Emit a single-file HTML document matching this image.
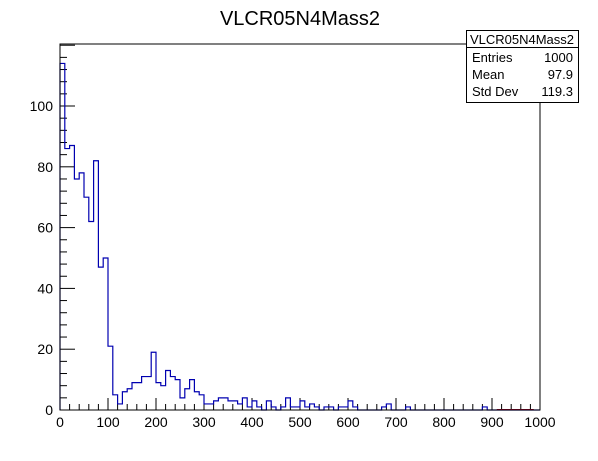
<!DOCTYPE html>
<html><head><meta charset="utf-8"><style>
body{margin:0;background:#fff;}
svg text{font-family:"Liberation Sans",sans-serif;}
</style></head><body>
<svg id="chart" width="598" height="456" viewBox="0 0 598 456" xmlns="http://www.w3.org/2000/svg">
<rect width="598" height="456" fill="#fff"/>
<text x="300" y="25" font-size="20" text-anchor="middle">VLCR05N4Mass2</text>
<g id="axes"></g>
<path id="hist" fill="none" stroke="#0000b0" stroke-width="1.2"/>
<rect x="60" y="44" width="480" height="366" fill="none" stroke="#000" stroke-width="1"/>
<g>
<rect x="466.5" y="30.5" width="112" height="72" fill="#fff" stroke="#000"/>
<line x1="466.5" y1="47.5" x2="578.5" y2="47.5" stroke="#000"/>
<text x="522" y="44" font-size="13" text-anchor="middle">VLCR05N4Mass2</text>
<text x="472" y="62" font-size="13">Entries</text><text x="573" y="62" font-size="13" text-anchor="end">1000</text>
<text x="472" y="79" font-size="13">Mean</text><text x="573" y="79" font-size="13" text-anchor="end">97.9</text>
<text x="472" y="96" font-size="13">Std Dev</text><text x="573" y="96" font-size="13" text-anchor="end">119.3</text>
</g>
</svg>
<script>
const binEdgesStart = 0;
const binWidth = 10;
const counts = [114,86,87,76,78,70,62,82,47,50,21,5,2,6,7,9,9,11,11,19,9,8,13,11,10,4,7,10,6,5,
2,2,3,4,4,3,3,2,4,1,3,1,0,3,1,0,1,4,1,1,3,1,2,1,0,1,1,0,1,1,
3,1,0,0,0,0,0,1,2,0,0,0,1,0,0,0,0,0,0,0,0,0,0,0,0,0,0,0,1,0,
0,0,0,0,0,0,0,0,0,0];
const xTicks = [0,100,200,300,400,500,600,700,800,900,1000];
const yTicks = [0,20,40,60,80,100];

const X0=60,X1=540,Y0=410,Y1=44,xMax=1000,yMax=120.4;
const sx=v=>X0+(v/xMax)*(X1-X0);
const sy=v=>Y0-(v/yMax)*(Y0-Y1);
const NS="http://www.w3.org/2000/svg";
const ax=document.getElementById('axes');
function mk(tag,attrs){const e=document.createElementNS(NS,tag);for(const k in attrs)e.setAttribute(k,attrs[k]);ax.appendChild(e);return e;}

let d=`M${sx(0)},${sy(0)}`;
counts.forEach((c,i)=>{const a=sx(binEdgesStart+i*binWidth),b=sx(binEdgesStart+(i+1)*binWidth);d+=` L${a},${sy(c)} L${b},${sy(c)}`;});
d+=` L${sx(1000)},${sy(0)}`;
document.getElementById('hist').setAttribute('d',d);

for(let v=0;v<=1000;v+=20){
  const major=v%100===0;
  const t=mk('line',{x1:sx(v),x2:sx(v),y1:Y0,y2:Y0-(major?12:6),stroke:'#000'});
  
  
}
xTicks.forEach(v=>{
  const t=mk('text',{x:sx(v),y:427,'font-size':14,'text-anchor':'middle'});
  t.textContent=v;
  
  
});
for(let v=0;v<=120;v+=4){
  const major=v%20===0;
  const t=mk('line',{x1:X0,x2:X0+(major?15:7),y1:sy(v),y2:sy(v),stroke:'#000'});
  
  
}
yTicks.forEach(v=>{
  const t=mk('text',{x:53,y:sy(v)+5,'font-size':14,'text-anchor':'end'});
  t.textContent=v;
  
  
});
const r=mk('line',{x1:sx(910),x2:sx(987),y1:Y0-0.5,y2:Y0-0.5,stroke:'#d00000','stroke-width':1});


</script>
</body></html>
